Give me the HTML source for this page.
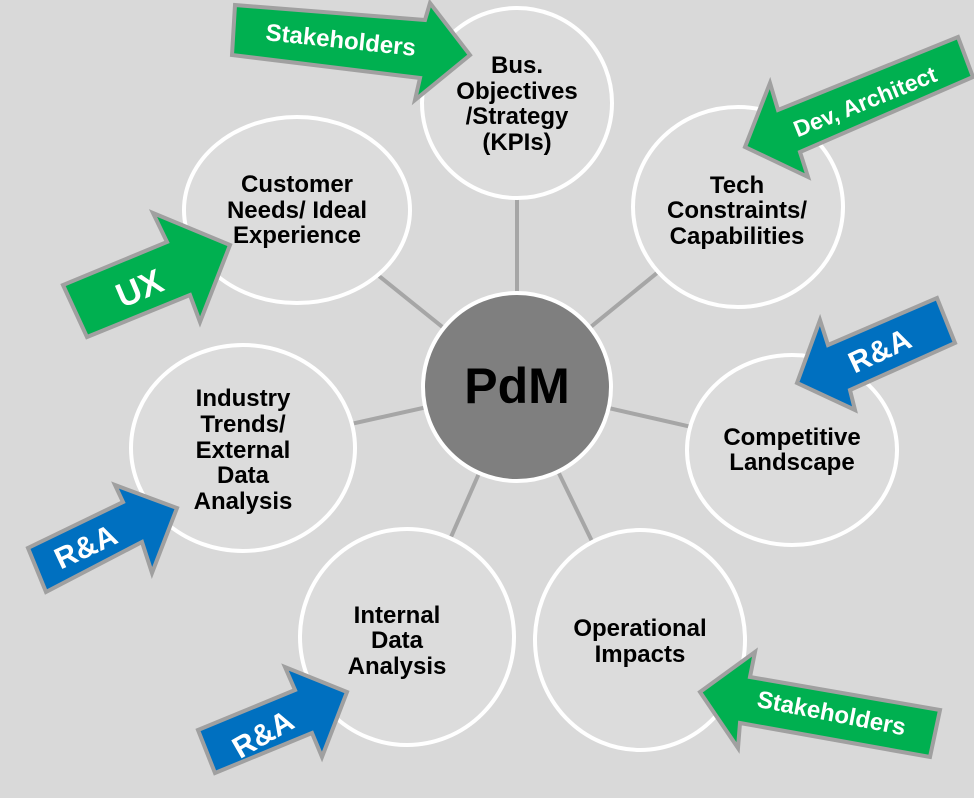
<!DOCTYPE html>
<html><head><meta charset="utf-8"><style>
html,body{margin:0;padding:0;background:#d9d9d9;}
svg{display:block;}
text{font-family:"Liberation Sans",Arial,sans-serif;font-weight:bold;}
</style></head><body>
<svg width="974" height="798" viewBox="0 0 974 798" xmlns="http://www.w3.org/2000/svg">
<rect width="974" height="798" fill="#d9d9d9"/>
<g stroke="#a6a6a6" stroke-width="4">
<line x1="517" y1="387" x2="517" y2="103"/>
<line x1="517" y1="387" x2="297" y2="210"/>
<line x1="517" y1="387" x2="738" y2="207"/>
<line x1="517" y1="387" x2="243" y2="448"/>
<line x1="517" y1="387" x2="792" y2="450"/>
<line x1="517" y1="387" x2="407" y2="637"/>
<line x1="517" y1="387" x2="640" y2="640"/>
</g>
<g fill="#dcdcdc" stroke="#ffffff" stroke-width="4">
<ellipse cx="517" cy="103" rx="95" ry="95"/>
<ellipse cx="297" cy="210" rx="113" ry="93"/>
<ellipse cx="738" cy="207" rx="105" ry="100"/>
<ellipse cx="243" cy="448" rx="112" ry="103"/>
<ellipse cx="792" cy="450" rx="105" ry="95"/>
<ellipse cx="407" cy="637" rx="107" ry="108"/>
<ellipse cx="640" cy="640" rx="105" ry="110"/>
</g>
<circle cx="517" cy="387" r="94" fill="#7f7f7f" stroke="#ffffff" stroke-width="4"/>
<text x="517" y="403" font-size="50" text-anchor="middle" fill="#000">PdM</text>
<g font-size="24" text-anchor="middle" fill="#000">
<text x="517" y="73">Bus.</text><text x="517" y="99">Objectives</text><text x="517" y="124">/Strategy</text><text x="517" y="150">(KPIs)</text>
<text x="297" y="192">Customer</text><text x="297" y="218">Needs/ Ideal</text><text x="297" y="243">Experience</text>
<text x="737" y="193">Tech</text><text x="737" y="218">Constraints/</text><text x="737" y="244">Capabilities</text>
<text x="243" y="406">Industry</text><text x="243" y="432">Trends/</text><text x="243" y="458">External</text><text x="243" y="483">Data</text><text x="243" y="509">Analysis</text>
<text x="792" y="445">Competitive</text><text x="792" y="470">Landscape</text>
<text x="397" y="623">Internal</text><text x="397" y="648">Data</text><text x="397" y="674">Analysis</text>
<text x="640" y="636">Operational</text><text x="640" y="662">Impacts</text>
</g>
<g stroke="#a0a0a0" stroke-width="4" stroke-linejoin="miter">
<polygon fill="#00b050" points="235,5 425,20 430,3 470,55 415,100 420,78 232,55"/>
<polygon fill="#00b050" points="153,213 167,242 63,285 87,337 190,295 200,322 230,245"/>
<polygon fill="#0070c0" points="115,485 123,502 28,548 46,592 142,542 152,573 177,508"/>
<polygon fill="#00b050" points="958,37 973,77 800,152 808,177 745,147 770,83 778,110"/>
<polygon fill="#0070c0" points="937,298 955,343 850,390 855,410 797,383 820,320 828,345"/>
<polygon fill="#0070c0" points="198,730 215,773 312,733 322,757 347,692 285,667 295,690"/>
<polygon fill="#00b050" points="700,692 755,652 750,677 940,710 930,757 740,723 738,748"/>
</g>
<g fill="#ffffff" text-anchor="middle">
<text font-size="24" transform="translate(340,48) rotate(6)">Stakeholders</text>
<text font-size="34" transform="translate(144,299) rotate(-23)">UX</text>
<text font-size="30" transform="translate(90,556) rotate(-25)">R&amp;A</text>
<text font-size="23" transform="translate(868,109) rotate(-22)">Dev, Architect</text>
<text font-size="30" transform="translate(884,360) rotate(-25)">R&amp;A</text>
<text font-size="30" transform="translate(268,743) rotate(-30)">R&amp;A</text>
<text font-size="24" transform="translate(830,721) rotate(11)">Stakeholders</text>
</g>
</svg>
</body></html>
